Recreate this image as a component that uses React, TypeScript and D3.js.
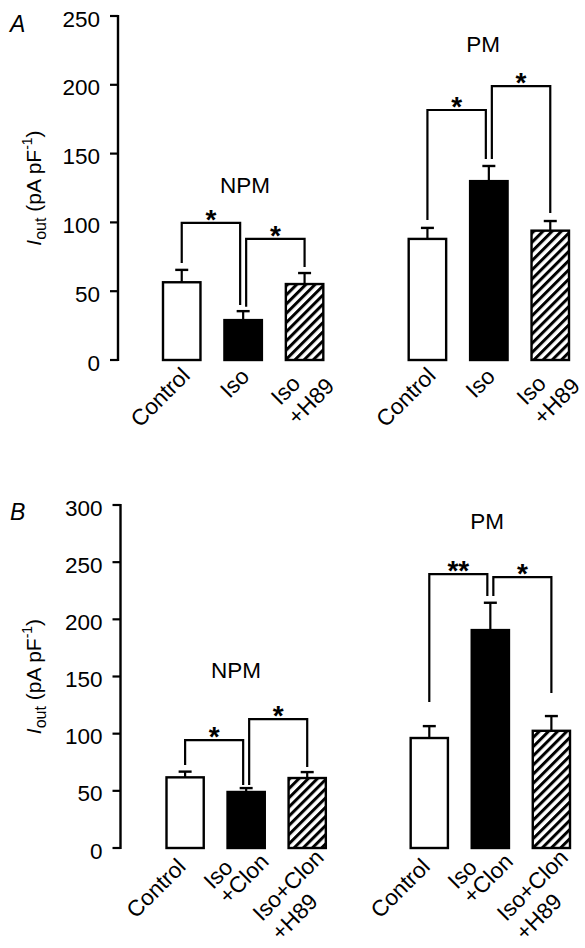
import React from "react";
import * as d3 from "d3";

// ---------- data ----------
const groupNames = ["NPM", "PM"];
const slotKeys = ["NPM-0", "NPM-1", "NPM-2", "gap", "PM-0", "PM-1", "PM-2"];

const ticksA = [0, 50, 100, 150, 200, 250];
const ticksB = [0, 50, 100, 150, 200, 250, 300];

const labelLinesA = [["Control"], ["Iso"], ["Iso", "+H89"]];
const labelLinesB = [["Control"], ["Iso", "+Clon"], ["Iso+Clon", "+H89"]];

const npmMeanA = [56.5, 29, 55.2];
const npmErrA = [9, 6.5, 8];
const pmMeanA = [88, 130, 94];
const pmErrA = [8, 11, 7];

const npmMeanB = [61.8, 49, 61.2];
const npmErrB = [5, 3.4, 5.2];
const pmMeanB = [96.2, 190.6, 102.5];
const pmErrB = [10.4, 23.9, 12.9];

// significance brackets: [fromBar, toBar, topValue, leftLegEnd, rightLegEnd, mark]
const bracketsNpmA: [number, number, number, number, number, string][] = [
  [0, 1, 99.6, 70.5, 40, "*"],
  [1, 2, 88, 38.7, 67.6, "*"],
];
const bracketsPmA: [number, number, number, number, number, string][] = [
  [0, 1, 181.7, 101.7, 146, "*"],
  [1, 2, 199, 146, 106.8, "*"],
];
const bracketsNpmB: [number, number, number, number, number, string][] = [
  [0, 1, 94.4, 72.6, 55, "*"],
  [1, 2, 112.8, 55, 70.8, "*"],
];
const bracketsPmB: [number, number, number, number, number, string][] = [
  [0, 1, 239.5, 127.6, 220.3, "**"],
  [1, 2, 237, 220.3, 135.5, "*"],
];

// ---------- layout ----------
const FONT = "'Liberation Sans', Arial, Helvetica, sans-serif";
const fills = ["#ffffff", "#000000", "url(#hatch)"];

type Panel = {
  letter: string;
  letterY: number;
  axisX: number;
  yTop: number;
  yBase: number;
  yMax: number;
  ticks: number[];
  xRange: [number, number];
  labels: string[][];
  labelOffsets: [number, number][][];
  groupLabelPos: [number, number][];
  means: number[][];
  errs: number[][];
  brackets: [number, number, number, number, number, string][][];
};

const panels: Panel[] = [
  {
    letter: "A",
    letterY: 32,
    axisX: 118,
    yTop: 16,
    yBase: 360,
    yMax: 250,
    ticks: ticksA,
    xRange: [163, 569],
    labels: labelLinesA,
    labelOffsets: [
      [[9.5, 17]],
      [[7.5, 18]],
      [[-3, 25], [31, 27.5]],
    ],
    groupLabelPos: [[245, 193], [483, 52]],
    means: [npmMeanA, pmMeanA],
    errs: [npmErrA, pmErrA],
    brackets: [bracketsNpmA, bracketsPmA],
  },
  {
    letter: "B",
    letterY: 520,
    axisX: 120.5,
    yTop: 505,
    yBase: 848,
    yMax: 300,
    ticks: ticksB,
    xRange: [166.5, 570],
    labels: labelLinesB,
    labelOffsets: [
      [[2, 20]],
      [[-12, 21], [24, 15]],
      [[18, 11], [12, 55]],
    ],
    groupLabelPos: [[236, 678], [487, 529]],
    means: [npmMeanB, pmMeanB],
    errs: [npmErrB, pmErrB],
    brackets: [bracketsNpmB, bracketsPmB],
  },
];

function PanelView({ p }: { p: Panel }) {
  const y = d3.scaleLinear().domain([0, p.yMax]).range([p.yBase, p.yTop]);
  const x = d3
    .scaleBand<string>()
    .domain(slotKeys)
    .range(p.xRange)
    .paddingInner(0.39)
    .paddingOuter(0);
  const bw = x.bandwidth();
  const cx = (g: number, i: number) => (x(`${groupNames[g]}-${i}`) as number) + bw / 2;

  return (
    <g>
      {/* panel letter */}
      <text x={10} y={p.letterY} fontSize={23} fontStyle="italic" fontFamily={FONT}>
        {p.letter}
      </text>

      {/* y axis */}
      <line x1={p.axisX} x2={p.axisX} y1={y(p.yMax) - 1} y2={y(0) + 1} stroke="#000" strokeWidth={2.4} />
      {p.ticks.map((t) => (
        <g key={t}>
          <line x1={p.axisX - 8} x2={p.axisX} y1={y(t)} y2={y(t)} stroke="#000" strokeWidth={2.2} />
          <text x={p.axisX - 18} y={y(t) + 10.5} textAnchor="end" fontSize={22.5} fontFamily={FONT}>
            {t}
          </text>
        </g>
      ))}

      {/* y axis title */}
      <text
        transform={`translate(41,${(y(0) + y(p.yMax)) / 2}) rotate(-90)`}
        textAnchor="middle"
        fontSize={21}
        fontFamily={FONT}
      >
        <tspan fontStyle="italic">I</tspan>
        <tspan fontSize={16} dy={5}>out</tspan>
        <tspan dy={-5}> (pA pF</tspan>
        <tspan fontSize={14} dy={-9}>-1</tspan>
        <tspan dy={9}>)</tspan>
      </text>

      {groupNames.map((gName, g) => (
        <g key={gName}>
          <text
            x={p.groupLabelPos[g][0]}
            y={p.groupLabelPos[g][1]}
            textAnchor="middle"
            fontSize={22.5}
            fontFamily={FONT}
          >
            {gName}
          </text>

          {p.means[g].map((m, i) => {
            const c = cx(g, i);
            const top = y(m);
            const eTop = y(m + p.errs[g][i]);
            return (
              <g key={i}>
                <line x1={c} x2={c} y1={top} y2={eTop} stroke="#000" strokeWidth={2.2} />
                <line x1={c - 6.5} x2={c + 6.5} y1={eTop} y2={eTop} stroke="#000" strokeWidth={2.4} />
                <rect
                  x={c - bw / 2}
                  y={top}
                  width={bw}
                  height={y(0) - top}
                  fill={fills[i]}
                  stroke="#000"
                  strokeWidth={2.4}
                />
              </g>
            );
          })}

          {p.brackets[g].map(([a, b, topV, lEnd, rEnd, mark], k) => {
            const lx = cx(g, a) + (a === 1 ? 3 : 0);
            const rx = cx(g, b) - (b === 1 ? 3 : 0);
            const ty = y(topV);
            const path = `M${lx},${y(lEnd)}V${ty}H${rx}V${y(rEnd)}`;
            return (
              <g key={k}>
                <path d={path} fill="none" stroke="#000" strokeWidth={2.2} />
                <text
                  x={(lx + rx) / 2}
                  y={ty + 6}
                  textAnchor="middle"
                  fontSize={28}
                  fontWeight="bold"
                  fontFamily={FONT}
                >
                  {mark}
                </text>
              </g>
            );
          })}

          {p.labels.map((lines, i) => {
            const c = cx(g, i);
            return (
              <g key={`l${i}`}>
                {lines.map((ln, j) => {
                  const [dx, dy] = p.labelOffsets[i][j];
                  return (
                    <text
                      key={j}
                      transform={`translate(${c + dx},${y(0) + dy}) rotate(-45)`}
                      textAnchor="end"
                      fontSize={22.5}
                      fontFamily={FONT}
                    >
                      {ln}
                    </text>
                  );
                })}
              </g>
            );
          })}
        </g>
      ))}
    </g>
  );
}

export default function App() {
  return (
    <svg
      width={585}
      height={948}
      viewBox="0 0 585 948"
      style={{ position: "absolute", left: 0, top: 0, background: "#fff" }}
    >
      <defs>
        <pattern
          id="hatch"
          patternUnits="userSpaceOnUse"
          width={6.5}
          height={6.5}
          patternTransform="rotate(45)"
        >
          <rect width={6.5} height={6.5} fill="#fff" />
          <line x1={1.5} y1={0} x2={1.5} y2={6.5} stroke="#000" strokeWidth={3} />
        </pattern>
      </defs>
      <rect width={585} height={948} fill="#fff" />
      {panels.map((p) => (
        <PanelView key={p.letter} p={p} />
      ))}
    </svg>
  );
}
